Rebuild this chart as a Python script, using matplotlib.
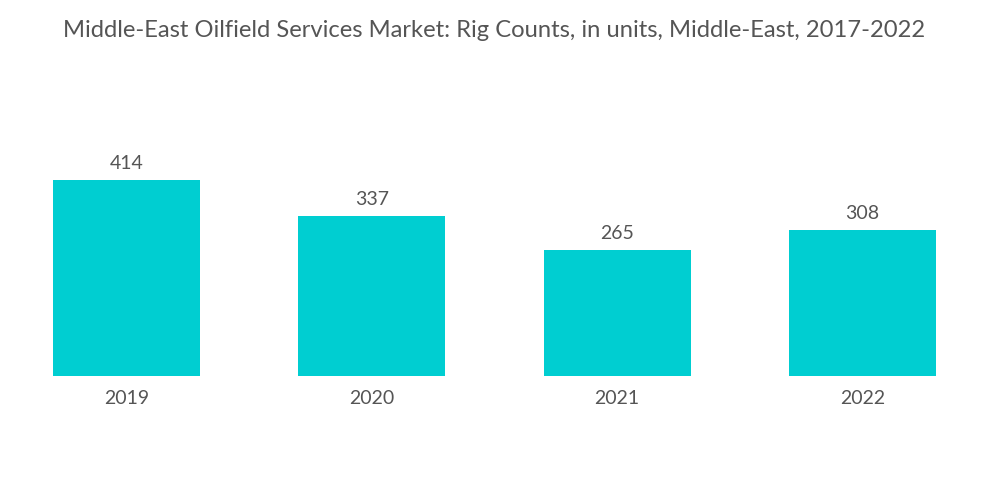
import matplotlib.pyplot as plt

# chart data
years = ["2019", "2020", "2021", "2022"]
rig_counts = [414, 337, 265, 308]

bar_color = "#00CED1"
text_color = "#555555"

plt.rcParams["font.family"] = ["Lato", "DejaVu Sans"]

fig = plt.figure(figsize=(10, 5.04), dpi=100)
ax = fig.add_axes([0.004, 0.254, 0.981, 0.55])

x = range(len(years))
bars = ax.bar(x, rig_counts, width=0.6, color=bar_color)

for b, v in zip(bars, rig_counts):
    ax.text(b.get_x() + b.get_width() / 2, v + 17, str(v),
            ha="center", va="bottom", fontsize=14, color=text_color)

ax.set_xlim(-0.5, len(years) - 0.5)
ax.set_ylim(0, 585)
ax.set_xticks(list(x))
ax.set_xticklabels(years, fontsize=14, color=text_color)
ax.tick_params(axis="x", length=0, pad=10)
ax.set_yticks([])
for s in ax.spines.values():
    s.set_visible(False)

fig.text(0.4945, 0.94, "Middle-East Oilfield Services Market: Rig Counts, in units, Middle-East, 2017-2022",
         ha="center", va="center", fontsize=17.1, color=text_color)

fig.savefig("out.png", dpi=100)
